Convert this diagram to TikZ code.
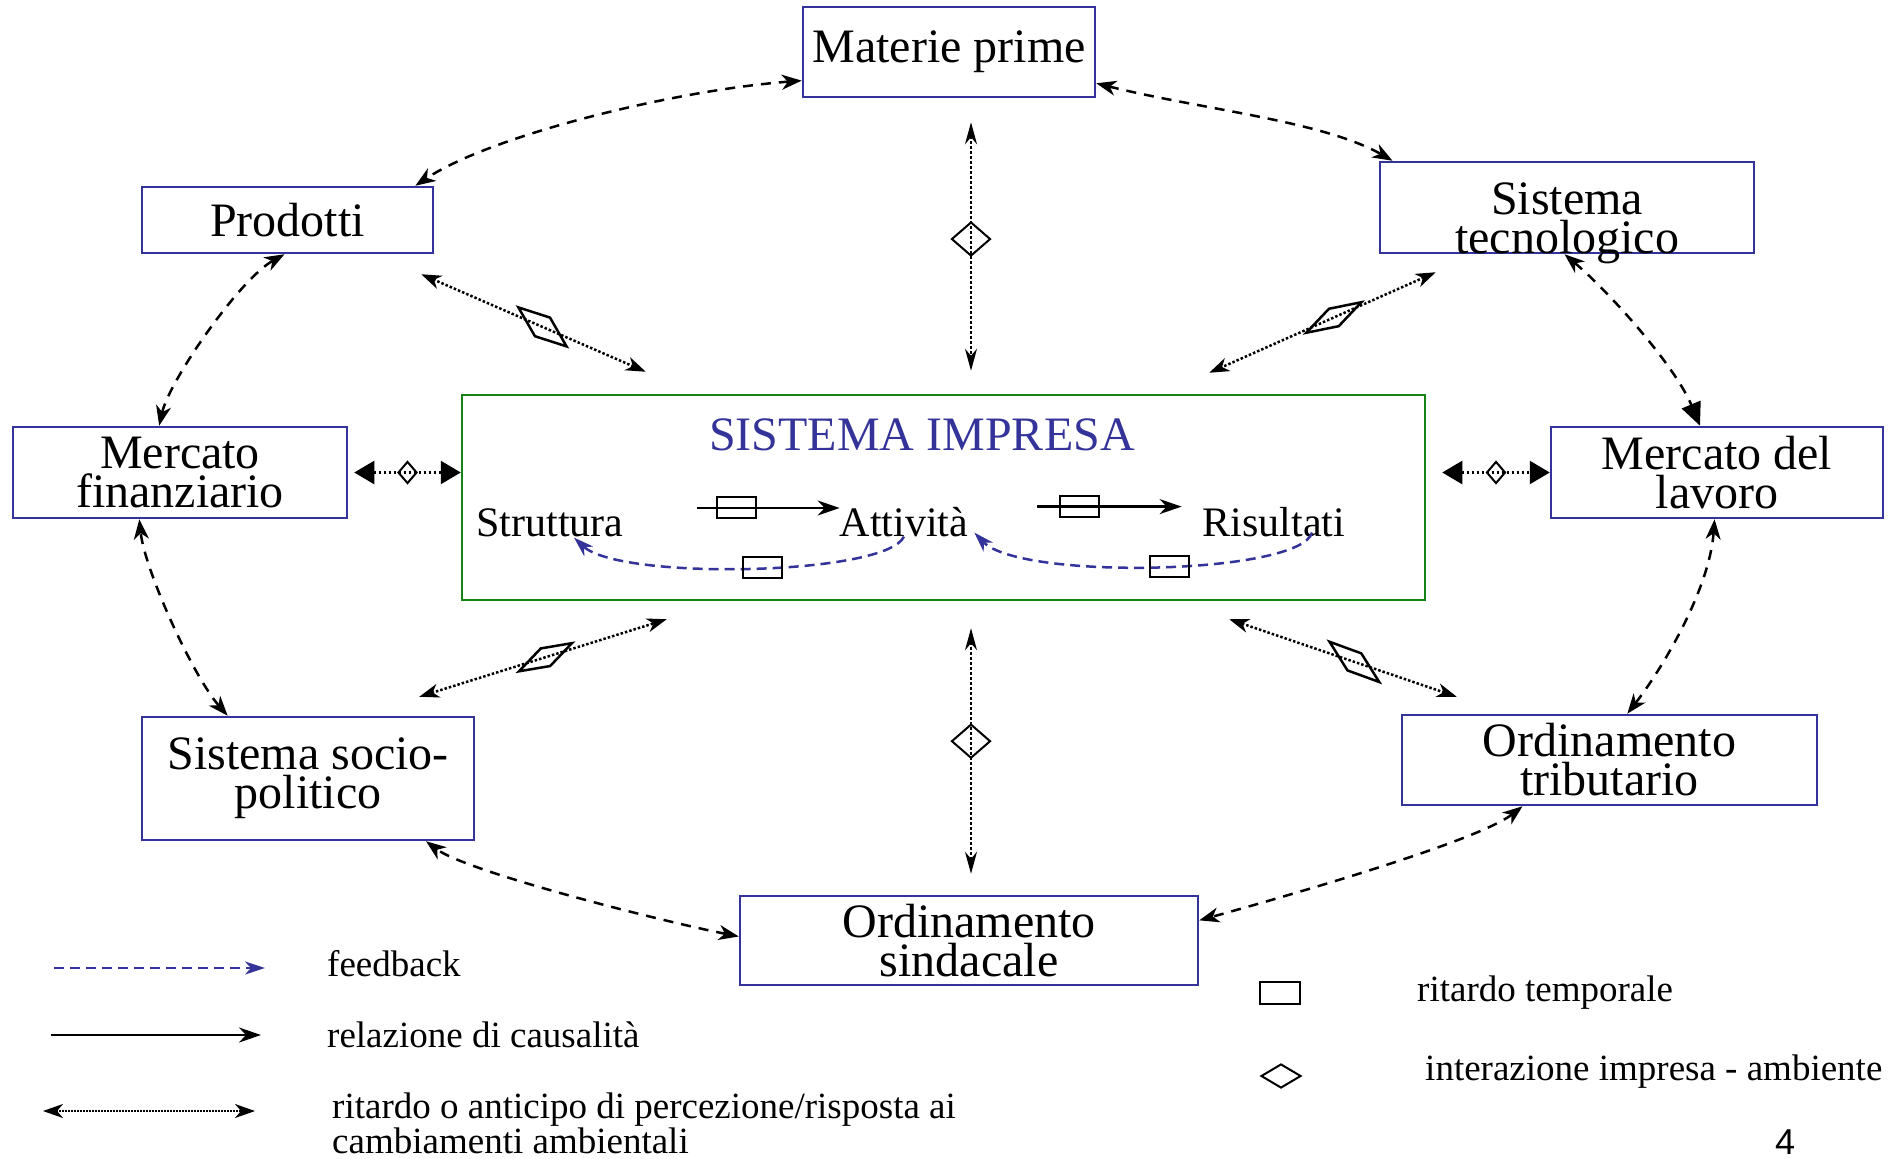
\documentclass[tikz,border=0pt]{standalone}
\usepackage{fontspec}
\setmainfont{Liberation Serif}
\newfontfamily\numfont{Liberation Sans}
\usetikzlibrary{arrows.meta,shapes.geometric,calc}
\definecolor{boxblue}{RGB}{51,51,153}
\definecolor{impgreen}{RGB}{20,130,20}

\begin{document}
\begin{tikzpicture}[x=1pt,y=-1pt,
  envbox/.style={draw=boxblue, line width=2.5pt, inner sep=0pt, align=center, font=\fontsize{48}{39}\selectfont},
  inlabel/.style={font=\fontsize{42}{42}\selectfont, anchor=base, inner sep=0pt},
  legtext/.style={font=\fontsize{37}{31}\selectfont, anchor=base west, inner sep=0pt},
  ring/.style={line width=2.5pt, dash pattern=on 10pt off 8pt, >={Stealth[length=20pt,width=15pt,inset=6pt]}, <->},
  inter/.style={line width=2.5pt, dash pattern=on 2.5pt off 2pt, >={Stealth[length=20pt,width=14pt,inset=6pt]}, <->},
  vinter/.style={line width=1.5pt, dash pattern=on 3pt off 2pt, >={Stealth[length=22pt,width=12pt,inset=7pt]}, <->},
  hinter/.style={line width=2.5pt, dash pattern=on 2.5pt off 2.5pt, >={Triangle[length=20pt,width=23pt]}, <->},
  legdot/.style={line width=2pt, dash pattern=on 1.5pt off 1.5pt, >={Stealth[length=20pt,width=14pt,inset=6pt]}, <->},
  causal/.style={line width=2.5pt, -{Stealth[length=22pt,width=15pt,inset=7pt]}},
  fback/.style={draw=boxblue, line width=2.5pt, dash pattern=on 10pt off 6pt, -{Stealth[length=20pt,width=13pt,inset=6pt]}},
  delay/.style={draw=black, solid, line width=2pt, inner sep=0pt, minimum width=39pt, minimum height=21pt},
  rhomb/.style={diamond, draw=black, solid, line width=2.5pt, inner sep=0pt},
  vdiam/.style={diamond, draw=black, solid, line width=2pt, inner sep=0pt, minimum width=39pt, minimum height=34pt},
  sdiam/.style={diamond, draw=black, solid, line width=2pt, inner sep=0pt, minimum width=19pt, minimum height=22pt}]
\useasboundingbox (0,0) rectangle (1901,1159);

\node[envbox, minimum width=292pt, minimum height=90pt] (mp) at (949,52) {Materie prime};
\node[envbox, minimum width=291pt, minimum height=66pt] (prod) at (287.5,220) {Prodotti};
\node[envbox, minimum width=374pt, minimum height=91pt, text height=91pt, text depth=0pt] (tec) at (1567,207.5) {Sistema\\tecnologico};
\node[envbox, minimum width=334pt, minimum height=91pt] (fin) at (180,472.5) {Mercato\\finanziario};
\node[envbox, minimum width=332pt, minimum height=91pt] (lav) at (1717,472.5) {Mercato del\\lavoro};
\node[envbox, minimum width=332pt, minimum height=123pt] (soc) at (308,778.5) {Sistema socio-\\politico};
\node[envbox, minimum width=415pt, minimum height=90pt] (trib) at (1609.5,760) {Ordinamento\\tributario};
\node[envbox, minimum width=458pt, minimum height=89pt] (sind) at (969,940.5) {Ordinamento\\sindacale};
\node[draw=impgreen, line width=2.5pt, inner sep=0pt, minimum width=963pt, minimum height=205pt] (imp) at (943.5,497.5) {};

\node[font=\fontsize{48}{48}\selectfont, text=boxblue, anchor=base] (titolo) at (922,450) {SISTEMA IMPRESA};
\node[inlabel] (str) at (550,536) {Struttura};
\node[inlabel] (att) at (904,536) {Attività};
\node[inlabel] (ris) at (1274,536) {Risultati};

\draw[causal] ($(str.north east)+(73,0)$) -- node[delay, pos=.28] {} (str.north east -| att.west);
\draw[causal] ($(att.north east)+(69,0)$) -- node[delay, pos=.29] {} ($(att.north east -| ris.west)+(-21,0)$);
\draw[fback] (att.south) .. controls ($(att.south)+(-18,39)$) and ($(str.south)+(70,44)$) .. ($(str.south)+(24,1)$) node[delay, pos=.47] {};
\draw[fback] ($(ris.south)+(38,-4)$) .. controls ($(ris.south)+(26,38)$) and ($(att.south east)+(52,44)$) .. ($(att.south east)+(6,-4)$) node[delay, pos=.47] {};

\draw[ring] (mp.191) .. controls ($(mp.191)+(-130,10)$) and ($(prod.15)+(75,-50)$) .. (prod.15);
\draw[ring] (mp.-12) .. controls ($(mp.-12)+(104,26)$) and ($(tec.165)+(-70,-40)$) .. (tec.165);
\draw[ring, <-{Triangle[length=23pt,width=20pt]}] (tec.-93) .. controls ($(tec.-93)+(45,38)$) and ($(lav.110)+(-25,-60)$) .. (lav.110);
\draw[ring] (lav.-93) .. controls ($(lav.-93)+(-5,70)$) and ($(trib.69)+(35,-45)$) .. (trib.69);
\draw[ring] (trib.-152) .. controls ($(trib.-152)+(-45,35)$) and ($(sind.5)+(90,-25)$) .. (sind.5);
\draw[ring] (sind.179) .. controls ($(sind.179)+(-85,-17)$) and ($(soc.-28)+(40,30)$) .. (soc.-28);
\draw[ring] (soc.142) .. controls ($(soc.142)+(-35,-40)$) and ($(fin.-131)+(5,50)$) .. (fin.-131);
\draw[ring] (fin.114) .. controls ($(fin.114)+(10,-45)$) and ($(prod.-95)+(-45,25)$) .. (prod.-95);

\draw[inter] ($(prod.south east)+(-13,20)$) -- node[rhomb, minimum width=63pt, minimum height=25pt, rotate=-39, pos=.54] {} ($(imp.north west)+(185,-22)$);
\draw[inter] ($(tec.south west)+(57,18)$) -- node[rhomb, minimum width=64pt, minimum height=21pt, rotate=29, pos=.45] {} ($(imp.north east)+(-217,-21)$);
\draw[inter] ($(soc.north east)+(-56,-19)$) -- node[rhomb, minimum width=61pt, minimum height=21pt, rotate=28, pos=.51] {} ($(imp.south west)+(206,18)$);
\draw[inter] ($(trib.north west)+(56,-17)$) -- node[rhomb, minimum width=65pt, minimum height=23pt, rotate=-39, pos=.45] {} ($(imp.south east)+(-197,18)$);
\draw[vinter] ($(mp.south)+(22,24)$) -- node[vdiam, pos=.47] {} ($(imp.north)+(27.5,-23)$);
\draw[vinter] ($(imp.south)+(27.5,27)$) -- node[vdiam, pos=.46] {} ($(sind.north)+(2,-21)$);
\draw[hinter] ($(fin.east)+(6,0)$) -- node[sdiam] {} (fin.east -| imp.west);
\draw[hinter] ($(lav.west -| imp.east)+(16,0)$) -- node[sdiam] {} (lav.west);

\coordinate (fbA) at (54,968);
\coordinate (fbB) at (265,968);
\draw[fback] (fbA) -- (fbB);
\node[legtext] (lfb) at (327,976) {feedback};
\coordinate (caA) at (51,1035);
\coordinate (caB) at (261,1035);
\draw[causal] (caA) -- (caB);
\node[legtext] (lca) at (327,1047) {relazione di causalità};
\coordinate (riA) at (43,1111);
\coordinate (riB) at (255,1111);
\draw[legdot] (riA) -- (riB);
\node[legtext, anchor=north west, align=left] (lri) at (332,1093) {ritardo o anticipo di percezione/risposta ai\\cambiamenti ambientali};
\node[delay, minimum width=40pt, minimum height=22pt] (lrit) at (1280,993) {};
\node[legtext] (lritt) at (1417,1001) {ritardo temporale};
\node[vdiam, minimum width=40pt, minimum height=24pt] (ldia) at (1281,1076) {};
\node[legtext] (ldiat) at (1425,1080) {interazione impresa - ambiente};
\node[font=\numfont\fontsize{36}{36}\selectfont, anchor=base, inner sep=0pt] (pagina) at (1785,1154) {4};
\end{tikzpicture}
\end{document}
